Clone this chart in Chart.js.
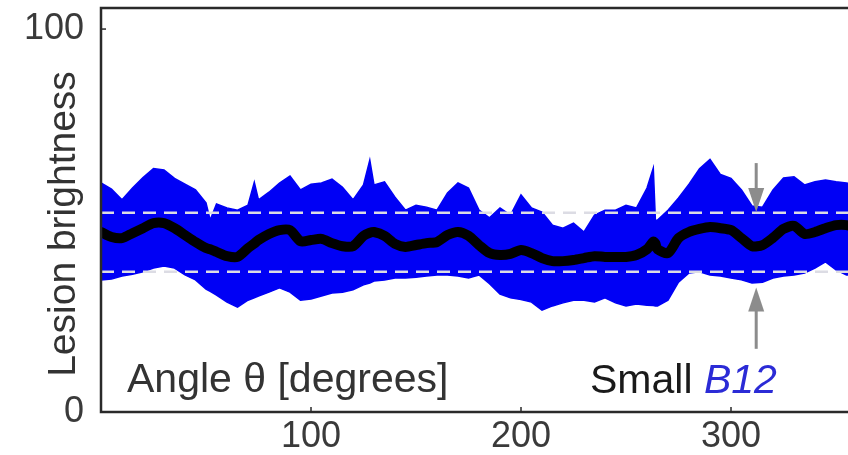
<!DOCTYPE html>
<html>
<head>
<meta charset="utf-8">
<script src="https://cdn.jsdelivr.net/npm/chart.js@4"></script>
<style>
  html, body { margin: 0; padding: 0; background: #fff; overflow: hidden; }
  #wrap { width: 848px; height: 455px; overflow: hidden; }
</style>
</head>
<body>
<div id="wrap"><canvas id="myChart" width="870" height="455"></canvas></div>
<script>
// angle along the lesion border (degrees)
const angles = [0, 5, 10, 15, 20, 25, 30, 35, 40, 45, 50, 52, 55, 60, 65, 70, 73, 75, 80, 85, 90, 95,
    100, 105, 110, 115, 120, 125, 128, 130, 135, 140, 145, 150, 155, 160, 165, 170, 175, 180, 185, 190, 195,
    200, 205, 210, 215, 220, 225, 230, 235, 240, 245, 250, 255, 260, 263, 264, 265, 270, 275, 280, 285, 290, 295,
    300, 305, 310, 315, 320, 325, 330, 335, 340, 345, 350, 355, 360];

// upper edge of the brightness spread
const upperValues = [59.8, 58.2, 55.4, 58.5, 61.2, 63.6, 63.2, 61.0, 59.5, 58.0, 54.6, 50.1, 54.3, 53.3, 52.7, 54.0, 60.0, 55.4, 57.4, 59.8, 61.6, 58.0,
    59.5, 59.8, 60.8, 58.7, 55.4, 59.3, 65.8, 59.3, 60.1, 56.1, 52.7, 54.0, 53.5, 52.7, 57.2, 59.8, 58.5, 52.7, 50.7, 53.3, 51.4,
    56.7, 53.3, 52.2, 48.8, 48.0, 49.3, 47.0, 51.4, 52.7, 52.7, 54.0, 53.3, 58.5, 63.7, 50.1, 50.1, 52.7, 55.9, 59.5, 63.5, 66.0, 62.0,
    61.0, 58.0, 53.8, 53.5, 58.0, 61.1, 61.4, 59.3, 60.1, 60.6, 60.1, 59.8, 59.3];

// lower edge of the brightness spread
const lowerValues = [34.5, 34.7, 35.5, 36.0, 36.6, 37.6, 38.1, 37.6, 35.8, 34.5, 32.1, 31.5, 30.5, 28.7, 27.4, 29.2, 29.8, 30.3, 31.3, 32.4, 31.3, 29.2,
    29.5, 30.3, 31.1, 31.3, 31.9, 33.2, 33.7, 34.2, 34.5, 35.0, 35.0, 35.2, 35.5, 35.8, 35.8, 35.5, 35.0, 35.8, 33.5, 30.8, 29.8,
    29.4, 28.7, 26.6, 27.7, 28.5, 29.2, 29.2, 28.7, 29.8, 28.5, 27.7, 28.2, 27.9, 27.8, 27.7, 27.7, 29.2, 33.9, 36.3, 36.6, 35.8, 35.5,
    35.0, 34.5, 33.7, 33.9, 35.0, 35.5, 35.8, 36.3, 37.6, 39.2, 37.1, 35.8, 35.8];

// mean brightness
const meanValues = [47.0, 45.7, 45.4, 46.7, 48.0, 49.3, 49.3, 48.0, 46.2, 44.4, 42.8, 42.5, 41.8, 40.7, 40.5, 42.8, 44.0, 44.9, 46.5, 47.5, 47.5, 44.6,
    44.9, 45.2, 44.1, 43.3, 43.3, 46.0, 46.8, 47.0, 46.0, 43.9, 43.1, 43.6, 44.1, 44.4, 46.2, 47.0, 46.0, 43.6, 41.5, 41.0, 41.3,
    42.3, 41.5, 40.2, 39.4, 39.4, 39.7, 40.2, 40.7, 40.5, 40.5, 40.5, 41.0, 42.5, 44.5, 44.0, 42.5, 41.5, 45.4, 47.0, 47.8, 48.3, 48.0,
    47.5, 45.4, 43.3, 43.6, 45.5, 47.8, 48.6, 46.5, 47.0, 48.0, 48.8, 48.8, 48.0];

// dashed reference levels
const referenceLevels = [52.0, 36.6];
const xTicks = [100, 200, 300];
const yTicks = [0, 100];

// arrows marking the small B12 spot
const arrowAngle = 312;
const arrowUpper = [65.0, 52.2];
const arrowLower = [16.5, 32.5];

const FONT = "'Liberation Sans', Arial, sans-serif";

function toPoints(values) {
    return values.map((v, i) => ({ x: angles[i], y: v }));
}

function drawArrow(ctx, x, yFrom, yTo) {
    const dir = yTo > yFrom ? 1 : -1;
    ctx.beginPath();
    ctx.moveTo(x, yFrom);
    ctx.lineTo(x, yTo - dir * 18);
    ctx.stroke();
    ctx.beginPath();
    ctx.moveTo(x, yTo);
    ctx.lineTo(x - 8, yTo - dir * 24);
    ctx.lineTo(x + 8, yTo - dir * 24);
    ctx.closePath();
    ctx.fill();
}

const decorations = {
    id: 'decorations',
    afterDraw(chart) {
        const { ctx, chartArea: a, scales: { x, y } } = chart;
        ctx.save();

        // frame
        ctx.strokeStyle = '#2a2a2a';
        ctx.lineWidth = 2.5;
        ctx.strokeRect(a.left, a.top, a.right - a.left, a.bottom - a.top);

        // small inward tick marks
        ctx.lineWidth = 1.5;
        xTicks.forEach((t) => {
            const px = x.getPixelForValue(t);
            ctx.beginPath();
            ctx.moveTo(px, a.bottom);
            ctx.lineTo(px, a.bottom - 5);
            ctx.stroke();
        });
        yTicks.forEach((t) => {
            const py = y.getPixelForValue(t);
            ctx.beginPath();
            ctx.moveTo(a.left, py);
            ctx.lineTo(a.left + 5, py);
            ctx.stroke();
        });

        // arrows
        ctx.strokeStyle = '#8c8c8c';
        ctx.fillStyle = '#8c8c8c';
        ctx.lineWidth = 3;
        const ax = x.getPixelForValue(arrowAngle);
        drawArrow(ctx, ax, y.getPixelForValue(arrowUpper[0]), y.getPixelForValue(arrowUpper[1]));
        drawArrow(ctx, ax, y.getPixelForValue(arrowLower[0]), y.getPixelForValue(arrowLower[1]));

        // texts inside the plot
        ctx.fillStyle = '#333';
        ctx.textBaseline = 'alphabetic';
        ctx.textAlign = 'left';
        ctx.font = `41px ${FONT}`;
        ctx.fillText('Angle θ [degrees]', a.left + 26, a.bottom - 20);

        const sx = a.left + 489;
        ctx.fillStyle = '#1a1a1a';
        ctx.fillText('Small ', sx, a.bottom - 19);
        const w = ctx.measureText('Small ').width;
        ctx.font = `italic 41px ${FONT}`;
        ctx.fillStyle = '#2b2bd6';
        ctx.fillText('B12', sx + w, a.bottom - 19);

        // y axis title
        ctx.fillStyle = '#333';
        ctx.font = `39px ${FONT}`;
        ctx.textAlign = 'center';
        ctx.textBaseline = 'middle';
        ctx.translate(a.left - 37, (a.top + a.bottom) / 2 + 14);
        ctx.rotate(-Math.PI / 2);
        ctx.fillText('Lesion brightness', 0, 0);

        ctx.restore();
    },
};

const ctx = document.getElementById('myChart').getContext('2d');
const myChart = new Chart(ctx, {
    type: 'line',
    data: {
        datasets: [
            {
                label: 'mean',
                data: toPoints(meanValues),
                borderColor: '#000',
                borderWidth: 10,
                borderJoinStyle: 'round',
                borderCapStyle: 'round',
                pointRadius: 0,
                tension: 0.25,
                fill: false,
                order: 0,
            },
            {
                label: 'upper level',
                data: [{ x: 0, y: referenceLevels[0] }, { x: 360, y: referenceLevels[0] }],
                borderColor: '#dcdce4',
                borderWidth: 2.5,
                borderDash: [13, 8],
                pointRadius: 0,
                fill: false,
                order: 1,
            },
            {
                label: 'lower level',
                data: [{ x: 0, y: referenceLevels[1] }, { x: 360, y: referenceLevels[1] }],
                borderColor: '#dcdce4',
                borderWidth: 2.5,
                borderDash: [13, 8],
                pointRadius: 0,
                fill: false,
                order: 1,
            },
            {
                label: 'upper',
                data: toPoints(upperValues),
                borderColor: '#0000f5',
                backgroundColor: '#0000f5',
                borderWidth: 1.5,
                pointRadius: 0,
                tension: 0,
                fill: '+1',
                order: 2,
            },
            {
                label: 'lower',
                data: toPoints(lowerValues),
                borderColor: '#0000f5',
                borderWidth: 1.5,
                pointRadius: 0,
                tension: 0,
                fill: false,
                order: 3,
            },
        ],
    },
    options: {
        responsive: false,
        animation: false,
        events: [],
        layout: { padding: { top: 8, right: 13, left: 0, bottom: 0 } },
        scales: {
            x: {
                type: 'linear',
                min: 0,
                max: 360,
                grid: { display: false },
                border: { display: false },
                afterBuildTicks: (scale) => { scale.ticks = xTicks.map((v) => ({ value: v })); },
                afterFit: (scale) => {
                    scale.height = 43;
                    scale.paddingLeft = 0;
                    scale.paddingRight = 0;
                },
                ticks: {
                    padding: -5,
                    color: '#3a3a3a',
                    font: { family: FONT, size: 36 },
                    maxRotation: 0,
                },
            },
            y: {
                min: 0,
                max: 105.5,
                grid: { display: false },
                border: { display: false },
                afterBuildTicks: (scale) => { scale.ticks = yTicks.map((v) => ({ value: v })); },
                afterFit: (scale) => {
                    scale.width = 101;
                    scale.paddingTop = 0;
                    scale.paddingBottom = 0;
                },
                ticks: {
                    padding: 9,
                    color: '#3a3a3a',
                    font: { family: FONT, size: 36 },
                },
            },
        },
        plugins: {
            legend: { display: false },
            tooltip: { enabled: false },
        },
    },
    plugins: [decorations],
});
</script>
</body>
</html>
